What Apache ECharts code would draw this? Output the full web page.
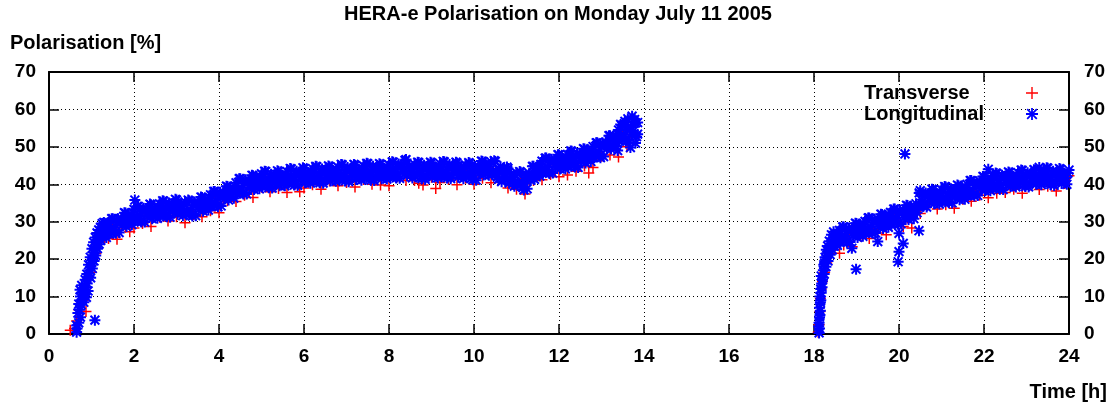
<!DOCTYPE html>
<html>
<head>
<meta charset="utf-8">
<script src="https://cdn.jsdelivr.net/npm/echarts@6/dist/echarts.min.js"></script>
<style>
html,body{margin:0;padding:0;background:#fff;}
#chart{width:1116px;height:406px;}
</style>
</head>
<body>
<div id="chart"></div>
<script>
// ---------------- DATA ----------------
const chartTitle = 'HERA-e Polarisation on Monday July 11 2005';
const yAxisTitle = 'Polarisation [%]';
const xAxisTitle = 'Time [h]';
const seriesNames = ['Transverse', 'Longitudinal'];

// Longitudinal polarimeter, first fill (time [h], polarisation [%])
const longTimeA = [
 0.65,0.65,0.66,0.68,0.70,0.72,0.74,0.76,0.78,0.80,
 0.82,0.84,0.86,0.88,0.90,0.92,0.94,0.96,0.98,1.00,
 1.02,1.04,1.06,1.08,1.08,1.10,1.12,1.14,1.16,1.18,
 1.20,1.22,1.24,1.26,1.28,1.30,1.32,
 1.35,1.40,1.45,1.50,1.55,1.60,1.65,1.70,1.75,1.80,
 1.85,1.90,1.95,2.00,2.05,2.10,2.15,2.20,2.25,2.30,
 2.35,2.40,2.45,2.50,2.55,2.60,2.65,2.70,2.75,2.80,
 2.85,2.90,2.95,3.00,3.05,3.10,3.15,3.20,3.25,3.30,
 3.35,3.40,3.45,3.50,3.55,3.60,3.65,3.70,3.75,3.80,
 3.85,3.90,3.95,4.00,4.05,4.10,4.15,4.20,4.25,4.30,
 4.35,4.40,4.45,4.50,4.55,4.60,4.65,4.70,4.75,4.80,
 4.85,4.90,4.95,5.00,5.05,5.10,5.15,5.20,5.25,5.30,
 5.35,5.40,5.45,5.50,5.55,5.60,5.65,5.70,5.75,5.80,
 5.85,5.90,5.95,6.00,6.05,6.10,6.15,6.20,6.25,6.30,
 6.35,6.40,6.45,6.50,6.55,6.60,6.65,6.70,6.75,6.80,
 6.85,6.90,6.95,7.00,7.05,7.10,7.15,7.20,7.25,7.30,
 7.35,7.40,7.45,7.50,7.55,7.60,7.65,7.70,7.75,7.80,
 7.85,7.90,7.95,8.00,8.05,8.10,8.15,8.20,8.25,8.30,
 8.35,8.40,8.45,8.50,8.55,8.60,8.65,8.70,8.75,8.80,
 8.85,8.90,8.95,9.00,9.05,9.10,9.15,9.20,9.25,9.30,
 9.35,9.40,9.45,9.50,9.55,9.60,9.65,9.70,9.75,9.80,
 9.85,9.90,9.95,10.00,10.05,10.10,10.15,10.20,10.25,10.30,
 10.35,10.40,10.45,10.50,10.55,10.60,10.65,10.70,10.75,10.80,
 10.85,10.90,10.95,11.00,11.05,11.10,11.15,11.20,11.25,11.30,
 11.35,11.40,11.45,11.50,11.55,11.60,11.65,11.70,11.75,11.80,
 11.85,11.90,11.95,12.00,12.05,12.10,12.15,12.20,12.25,12.30,
 12.35,12.40,12.45,12.50,12.55,12.60,12.65,12.70,12.75,12.80,
 12.85,12.90,12.95,13.00,13.05,13.10,13.15,13.20,13.25,13.30,
 13.35,13.40,13.45,13.50,13.55,13.60,13.65,13.70,13.75,13.80,
 13.85,
 2.02,13.62,13.72,13.80,13.55,13.68,13.78,13.45,13.38,13.85
];
const longPolA = [
 0.5,2.3,1.5,5.6,8.0,6.5,10.0,7.8,9.2,11.0,
 8.5,10.5,12.5,9.8,13.5,11.5,15.5,17.0,15.0,19.0,
 17.5,21.0,19.5,3.7,22.5,21.0,24.0,22.8,25.5,24.0,
 26.5,25.0,27.5,26.0,28.2,26.8,28.8,
 25.8,29.8,27.8,30.8,27.2,29.8,27.1,30.9,30.1,32.3,
 29.5,31.3,29.2,33.3,31.1,34.1,30.3,32.7,29.9,33.5,
 32.5,34.5,31.6,33.2,30.9,34.8,32.6,35.5,31.7,34.1,
 31.2,34.8,33.8,35.8,32.6,34.0,31.6,35.3,32.9,35.6,
 31.9,34.4,31.6,35.3,34.4,36.5,33.6,35.3,33.1,37.2,
 35.1,38.1,34.4,36.9,34.2,38.0,37.2,39.4,36.6,38.4,
 36.3,40.4,38.4,41.5,37.8,40.3,37.4,41.1,40.2,42.3,
 39.4,41.0,38.8,42.8,40.6,43.4,39.6,41.9,39.0,42.5,
 41.5,43.4,40.4,41.9,39.6,43.4,41.2,44.1,40.3,42.6,
 39.7,43.3,42.2,44.2,41.1,42.7,40.3,44.2,41.9,44.7,
 40.9,43.2,40.3,43.8,42.7,44.7,41.6,43.2,40.8,44.6,
 42.4,45.2,41.4,43.7,40.7,44.2,43.2,45.1,42.0,43.5,
 41.1,44.9,42.7,45.5,41.6,43.9,41.0,44.5,43.4,45.3,
 42.2,43.8,41.4,45.2,43.0,45.9,42.1,44.5,41.6,45.2,
 44.2,46.6,42.9,44.3,41.7,45.3,43.0,45.8,42.0,44.3,
 41.3,44.8,43.7,45.7,42.6,44.1,41.7,45.5,43.2,46.0,
 42.2,44.5,41.5,45.0,43.8,45.7,42.5,44.0,41.5,45.2,
 42.9,45.6,41.7,43.9,41.1,44.9,44.0,46.1,43.3,45.0,
 42.4,46.0,43.5,46.1,41.9,44.0,40.7,44.0,42.6,44.2,
 40.9,42.1,39.5,43.0,40.5,43.2,39.1,41.2,38.8,42.9,
 42.4,44.8,42.3,44.4,42.2,46.2,44.0,47.0,43.3,45.8,
 43.0,46.6,45.7,47.8,44.8,46.4,44.1,48.0,45.9,48.8,
 45.0,47.4,44.5,48.1,47.2,49.4,46.5,48.3,46.1,50.1,
 48.1,51.1,47.5,50.0,47.4,51.3,50.7,53.0,50.3,52.2,
 50.2,54.5,52.6,55.8,52.0,54.5,51.6,55.3,54.3,56.4,
 53.4,
 35.8,57.5,58.2,51.0,56.8,49.8,57.3,56.0,49.0,56.5
];
// Longitudinal polarimeter, first fill, interleaved readings
const longTimeA2 = [
 0.70,0.73,0.74,0.77,0.81,0.85,0.89,0.93,0.97,1.01,
 1.05,1.09,1.13,1.17,1.21,1.25,1.29,
 1.375,1.425,1.475,1.525,1.575,1.625,1.675,1.725,1.775,1.825,
 1.875,1.925,1.975,2.025,2.075,2.125,2.175,2.225,2.275,2.325,
 2.375,2.425,2.475,2.525,2.575,2.625,2.675,2.725,2.775,2.825,
 2.875,2.925,2.975,3.025,3.075,3.125,3.175,3.225,3.275,3.325,
 3.375,3.425,3.475,3.525,3.575,3.625,3.675,3.725,3.775,3.825,
 3.875,3.925,3.975,4.025,4.075,4.125,4.175,4.225,4.275,4.325,
 4.375,4.425,4.475,4.525,4.575,4.625,4.675,4.725,4.775,4.825,
 4.875,4.925,4.975,5.025,5.075,5.125,5.175,5.225,5.275,5.325,
 5.375,5.425,5.475,5.525,5.575,5.625,5.675,5.725,5.775,5.825,
 5.875,5.925,5.975,6.025,6.075,6.125,6.175,6.225,6.275,6.325,
 6.375,6.425,6.475,6.525,6.575,6.625,6.675,6.725,6.775,6.825,
 6.875,6.925,6.975,7.025,7.075,7.125,7.175,7.225,7.275,7.325,
 7.375,7.425,7.475,7.525,7.575,7.625,7.675,7.725,7.775,7.825,
 7.875,7.925,7.975,8.025,8.075,8.125,8.175,8.225,8.275,8.325,
 8.375,8.425,8.475,8.525,8.575,8.625,8.675,8.725,8.775,8.825,
 8.875,8.925,8.975,9.025,9.075,9.125,9.175,9.225,9.275,9.325,
 9.375,9.425,9.475,9.525,9.575,9.625,9.675,9.725,9.775,9.825,
 9.875,9.925,9.975,10.025,10.075,10.125,10.175,10.225,10.275,10.325,
 10.375,10.425,10.475,10.525,10.575,10.625,10.675,10.725,10.775,10.825,
 10.875,10.925,10.975,11.025,11.075,11.125,11.175,11.225,11.275,11.325,
 11.375,11.425,11.475,11.525,11.575,11.625,11.675,11.725,11.775,11.825,
 11.875,11.925,11.975,12.025,12.075,12.125,12.175,12.225,12.275,12.325,
 12.375,12.425,12.475,12.525,12.575,12.625,12.675,12.725,12.775,12.825,
 12.875,12.925,12.975,13.025,13.075,13.125,13.175,13.225,13.275,13.325,
 13.375,13.425,13.475,13.525,13.575,13.625,13.675,13.725,13.775,13.825
];
const longPolA2 = [
 3.0,11.8,4.5,13.0,12.0,14.5,16.0,18.5,20.5,22.8,
 24.5,25.8,27.0,27.8,28.5,29.5,29.8,
 28.9,26.7,30.8,28.5,26.9,30.8,30.1,29.0,32.4,28.7,
 31.6,30.8,32.4,30.2,34.1,31.7,29.9,33.6,32.8,31.5,
 34.7,30.8,33.6,32.6,34.0,31.7,35.6,33.1,31.3,35.0,
 34.1,32.8,36.0,32.0,34.5,33.3,34.6,32.1,35.8,33.2,
 31.5,35.3,34.5,33.3,36.6,32.8,35.6,34.7,36.3,34.1,
 38.1,35.7,34.0,37.9,37.2,36.1,39.5,35.8,38.7,37.9,
 39.5,37.4,41.5,39.1,37.4,41.2,40.3,39.1,42.4,38.6,
 41.4,40.4,41.9,39.6,43.5,40.9,39.1,42.7,41.8,40.4,
 43.6,39.6,42.3,41.3,42.6,40.3,44.2,41.7,39.8,43.5,
 42.6,41.2,44.4,40.4,43.1,42.0,43.4,41.0,44.8,42.3,
 40.4,44.1,43.1,41.7,44.9,40.9,43.6,42.5,43.8,41.5,
 45.3,42.8,40.9,44.5,43.5,42.2,45.3,41.3,43.9,42.8,
 44.1,41.8,45.6,43.0,41.1,44.8,43.8,42.4,45.5,41.5,
 44.2,43.1,44.4,42.1,46.0,43.5,41.7,45.4,44.5,43.2,
 46.4,42.3,44.8,43.5,44.6,42.1,45.9,43.4,41.5,45.1,
 44.1,42.7,45.9,41.9,44.5,43.4,44.7,42.3,46.1,43.6,
 41.7,45.3,44.3,42.9,45.9,41.9,44.4,43.3,44.5,42.0,
 45.8,43.1,41.2,44.8,44.1,42.9,46.2,42.5,45.3,44.2,
 45.3,42.7,46.3,43.5,41.3,44.7,43.4,41.8,44.6,40.3,
 42.7,41.3,42.4,39.7,43.4,40.6,38.5,42.3,41.9,41.1,
 44.8,41.3,44.5,43.8,45.3,43.1,47.0,44.6,42.9,46.7,
 45.9,44.6,47.9,44.1,46.8,45.8,47.2,44.9,48.9,46.4,
 44.6,48.3,47.4,46.1,49.5,45.7,48.6,47.7,49.2,47.1,
 51.1,48.8,47.1,51.0,50.4,49.5,53.0,49.4,52.4,51.7,
 53.5,51.5,55.7,53.4,51.6,55.4,54.5,53.3,56.5,52.7
];

// Longitudinal polarimeter, second fill
const longTimeB = [
 18.12,18.13,18.12,18.14,18.13,18.15,18.14,18.16,18.18,18.17,
 18.20,18.22,18.24,18.25,18.28,18.30,18.33,18.35,18.38,18.40,
 18.43,18.45,18.48,18.50,
 18.55,18.60,18.65,18.70,18.75,18.80,18.85,18.90,18.95,19.00,
 19.05,19.10,19.15,19.20,19.25,19.30,19.35,19.40,19.45,19.50,
 19.55,19.60,19.65,19.70,19.75,19.80,19.85,19.90,19.95,20.00,
 20.05,20.10,20.15,20.20,20.25,20.30,20.35,20.40,20.45,20.50,
 20.55,20.60,20.65,20.70,20.75,20.80,20.85,20.90,20.95,21.00,
 21.05,21.10,21.15,21.20,21.25,21.30,21.35,21.40,21.45,21.50,
 21.55,21.60,21.65,21.70,21.75,21.80,21.85,21.90,21.95,22.00,
 22.05,22.10,22.15,22.20,22.25,22.30,22.35,22.40,22.45,22.50,
 22.55,22.60,22.65,22.70,22.75,22.80,22.85,22.90,22.95,23.00,
 23.05,23.10,23.15,23.20,23.25,23.30,23.35,23.40,23.45,23.50,
 23.55,23.60,23.65,23.70,23.75,23.80,23.85,23.90,23.95,24.00,
 18.89,18.99,19.50,19.98,20.00,20.10,20.00,20.14,20.47,22.10,23.30
];
const longPolB = [
 0.3,1.5,3.0,5.0,7.0,8.5,10.0,12.0,13.5,15.5,
 14.5,17.0,16.0,19.0,18.0,21.0,19.5,22.5,21.2,24.0,
 22.5,25.3,23.5,26.0,
 23.7,27.7,25.6,28.6,24.9,27.4,24.6,28.3,27.4,29.5,
 26.6,28.3,26.1,30.1,28.0,31.0,27.3,29.8,27.0,30.7,
 29.8,31.9,29.0,30.7,28.5,32.5,30.4,33.4,29.7,32.2,
 29.4,33.1,32.2,34.3,31.3,33.0,30.8,34.8,34.0,38.3,
 34.5,36.9,33.9,37.5,36.5,38.5,35.5,37.0,34.7,38.6,
 36.4,39.3,35.5,37.9,35.0,38.6,37.6,39.6,36.6,38.2,
 36.0,40.0,38.0,41.0,37.3,39.8,37.0,40.8,39.9,42.0,
 39.0,40.6,38.3,42.2,40.0,42.9,39.1,41.5,38.6,42.2,
 41.2,43.1,40.1,41.6,39.3,43.1,40.9,43.7,39.9,42.2,
 39.3,42.8,41.8,43.7,40.7,42.2,39.9,43.7,41.5,44.3,
 40.4,42.7,39.7,43.2,42.1,44.0,40.9,42.4,40.0,43.8,
 22.9,17.3,24.7,19.3,22.0,24.2,26.9,48.1,27.6,44.0,44.5
];
// Longitudinal polarimeter, second fill, interleaved readings
const longTimeB2 = [
 18.11,18.13,18.15,18.16,18.17,18.19,18.21,18.23,18.26,18.29,
 18.32,18.36,18.41,18.46,18.52,
 18.575,18.625,18.675,18.725,18.775,18.825,18.875,18.925,18.975,19.025,
 19.075,19.125,19.175,19.225,19.275,19.325,19.375,19.425,19.475,19.525,
 19.575,19.625,19.675,19.725,19.775,19.825,19.875,19.925,19.975,20.025,
 20.075,20.125,20.175,20.225,20.275,20.325,20.375,20.425,20.475,20.525,
 20.575,20.625,20.675,20.725,20.775,20.825,20.875,20.925,20.975,21.025,
 21.075,21.125,21.175,21.225,21.275,21.325,21.375,21.425,21.475,21.525,
 21.575,21.625,21.675,21.725,21.775,21.825,21.875,21.925,21.975,22.025,
 22.075,22.125,22.175,22.225,22.275,22.325,22.375,22.425,22.475,22.525,
 22.575,22.625,22.675,22.725,22.775,22.825,22.875,22.925,22.975,23.025,
 23.075,23.125,23.175,23.225,23.275,23.325,23.375,23.425,23.475,23.525,
 23.575,23.625,23.675,23.725,23.775,23.825,23.875,23.925,23.975
];
const longPolB2 = [
 2.0,4.5,6.2,9.0,11.0,12.5,15.0,18.5,20.5,22.5,
 23.5,24.8,26.5,27.3,24.2,
 26.8,24.6,28.6,26.2,24.5,28.3,27.5,26.3,29.6,25.8,
 28.6,27.7,29.2,27.0,31.0,28.6,26.9,30.7,29.9,28.7,
 32.0,28.2,31.0,30.1,31.6,29.4,33.4,31.0,29.3,33.1,
 32.3,31.1,34.4,30.6,33.3,32.4,33.9,32.4,37.7,35.9,
 34.1,37.7,36.8,35.5,38.7,34.8,37.4,36.4,37.8,35.5,
 39.4,36.9,35.1,38.8,37.9,36.6,39.8,35.9,38.6,37.6,
 39.1,37.0,41.0,38.6,36.9,40.7,40.0,38.8,42.1,38.3,
 41.0,40.0,41.4,39.1,43.0,40.5,38.7,42.4,41.5,40.2,
 43.3,39.4,42.0,41.0,42.3,40.0,43.8,41.3,39.4,43.1,
 42.1,40.8,43.9,40.0,42.6,41.6,42.9,40.6,44.4,41.8,
 39.9,43.5,42.5,41.1,44.2,40.2,42.8,41.7,43.0
];

// Transverse polarimeter, first fill
const transTimeA = [
 0.50,0.60,0.65,0.70,0.75,0.80,0.87,0.90,1.00,1.10,1.20,1.30,
 1.4,1.5,1.6,1.7,1.8,1.9,2.0,2.1,2.2,2.3,
 2.4,2.5,2.6,2.7,2.8,2.9,3.0,3.1,3.2,3.3,
 3.4,3.5,3.6,3.7,3.8,3.9,4.0,4.1,4.2,4.3,
 4.4,4.5,4.6,4.7,4.8,4.9,5.0,5.1,5.2,5.3,
 5.4,5.5,5.6,5.7,5.8,5.9,6.0,6.1,6.2,6.3,
 6.4,6.5,6.6,6.7,6.8,6.9,7.0,7.1,7.2,7.3,
 7.4,7.5,7.6,7.7,7.8,7.9,8.0,8.1,8.2,8.3,
 8.4,8.5,8.6,8.7,8.8,8.9,9.0,9.1,9.2,9.3,
 9.4,9.5,9.6,9.7,9.8,9.9,10.0,10.1,10.2,10.3,
 10.4,10.5,10.6,10.7,10.8,10.9,11.0,11.1,11.2,11.3,
 11.4,11.5,11.6,11.7,11.8,11.9,12.0,12.1,12.2,12.3,
 12.4,12.5,12.6,12.7,12.8,12.9,13.0,13.1,13.2,13.3,
 13.4,13.5,13.6,13.7,13.8
];
const transPolA = [
 1.0,1.5,3.5,6.5,8.0,9.0,6.0,11.5,16.5,21.5,24.5,26.0,
 25.5,28.3,25.3,28.9,28.5,27.3,28.3,30.5,29.5,32.1,
 28.7,32.0,31.2,33.5,30.2,32.3,31.3,33.4,29.7,32.5,
 31.9,34.4,31.3,33.6,32.9,35.6,32.4,36.0,35.6,38.3,
 35.4,37.9,37.1,39.7,36.5,39.8,39.2,41.4,38.0,40.0,
 38.9,41.3,37.8,41.0,40.1,38.0,39.0,41.0,39.9,42.2,
 38.7,41.8,40.9,43.1,39.6,41.6,40.5,42.8,39.3,42.3,
 41.3,43.5,40.0,42.0,39.8,43.2,39.6,42.8,42.0,44.3,
 41.0,42.6,41.0,40.3,39.8,42.8,41.9,38.9,40.5,42.4,
 41.3,43.6,39.9,42.8,41.6,43.6,40.0,42.4,41.6,44.4,
 40.4,43.0,41.5,43.1,39.0,40.4,38.7,40.7,37.4,40.9,
 41.0,44.3,41.2,43.4,42.6,45.2,42.0,45.2,42.5,46.8,
 43.5,45.6,44.9,43.0,44.5,48.0,47.5,50.4,47.8,50.5,
 47.3,53.3,50.0,53.3,52.6
];

// Transverse polarimeter, second fill
const transTimeB = [
 18.10,18.12,18.14,18.15,18.17,18.20,18.25,18.30,18.40,18.50,18.60,
 18.7,18.8,18.9,19.0,19.1,19.2,19.3,19.4,19.5,19.6,
 19.7,19.8,19.9,20.0,20.1,20.2,20.3,20.4,20.5,20.6,
 20.7,20.8,20.9,21.0,21.1,21.2,21.3,21.4,21.5,21.6,
 21.7,21.8,21.9,22.0,22.1,22.2,22.3,22.4,22.5,22.6,
 22.7,22.8,22.9,23.0,23.1,23.2,23.3,23.4,23.5,23.6,
 23.7,23.8,23.9,24.0
];
const transPolB = [
 0.5,2.5,6.0,9.5,12.0,14.0,16.5,19.0,21.5,23.5,21.6,
 23.8,26.5,23.3,26.7,26.1,28.6,25.5,27.8,27.0,29.7,
 26.5,29.9,29.3,31.8,28.7,31.0,28.3,32.8,32.2,35.4,
 34.5,36.8,33.4,35.5,34.5,37.0,33.6,36.8,36.0,38.5,
 35.5,37.8,37.1,39.8,36.4,39.6,37.6,41.1,37.8,39.8,
 38.7,41.1,37.6,40.7,39.8,42.0,38.6,40.6,39.5,41.8,
 38.2,41.2,40.2,42.3
];

// ---------------- CHART ----------------
const pairs = (ts, vs) => ts.map((t, i) => [t, vs[i]]);
const transData = pairs(transTimeA, transPolA).concat(pairs(transTimeB, transPolB));
const longData = pairs(longTimeA, longPolA)
  .concat(pairs(longTimeA2, longPolA2))
  .concat(pairs(longTimeB, longPolB))
  .concat(pairs(longTimeB2, longPolB2));

const FONT = '"Liberation Sans", Arial, Helvetica, sans-serif';
const PLUS = 'path://M0,5L10,5M5,0L5,10';
const STAR = 'path://M0,5L10,5M5,0L5,10M1,1L9,9M1,9L9,1';
const RED = '#ff0000';
const BLUE = '#0000ff';

const txt = (size) => ({ fontFamily: FONT, fontWeight: 'bold', fontSize: size, color: '#000' });
const axisLine = { show: true, onZero: false, lineStyle: { color: '#000', width: 2 } };
const axisTick = { show: true, inside: true, length: 10, lineStyle: { color: '#000', width: 1.5 } };
const gridLine = { show: true, lineStyle: { color: '#000', width: 1, type: [1, 3] } };

const chart = echarts.init(document.getElementById('chart'), null, { renderer: 'canvas' });
chart.setOption({
  animation: false,
  backgroundColor: '#fff',
  title: [
    { text: chartTitle, left: 'center', top: 4, padding: 0, textStyle: txt(20) },
    { text: yAxisTitle, left: 10, top: 33, padding: 0, textStyle: txt(20) },
    { text: xAxisTitle, right: 9, top: 382, padding: 0, textStyle: txt(20) }
  ],
  grid: { left: 49, right: 47, top: 72, bottom: 72 },
  legend: {
    orient: 'vertical', left: 864, top: 83, padding: 0, align: 'right',
    itemWidth: 12, itemHeight: 12, itemGap: 1, selectedMode: false,
    formatter: '{n|{name}}',
    textStyle: Object.assign(txt(20), {
      rich: { n: { fontFamily: FONT, fontWeight: 'bold', fontSize: 20, color: '#000',
                   width: 157, align: 'left', lineHeight: 20 } }
    }),
    data: [
      { name: seriesNames[0], icon: PLUS, itemStyle: { color: 'rgba(0,0,0,0)', borderColor: RED, borderWidth: 1.4 } },
      { name: seriesNames[1], icon: STAR, itemStyle: { color: 'rgba(0,0,0,0)', borderColor: BLUE, borderWidth: 1.8 } }
    ]
  },
  xAxis: [
    { type: 'value', min: 0, max: 24, interval: 2, position: 'bottom',
      axisLine, axisTick, splitLine: gridLine,
      axisLabel: Object.assign(txt(19), { margin: 13 }) },
    { type: 'value', min: 0, max: 24, interval: 2, position: 'top',
      axisLine, axisTick, splitLine: { show: false }, axisLabel: { show: false } }
  ],
  yAxis: [
    { type: 'value', min: 0, max: 70, interval: 10, position: 'left',
      axisLine, axisTick, splitLine: gridLine,
      axisLabel: Object.assign(txt(19), { margin: 13 }) },
    { type: 'value', min: 0, max: 70, interval: 10, position: 'right',
      axisLine, axisTick, splitLine: { show: false },
      axisLabel: Object.assign(txt(19), { margin: 15 }) }
  ],
  series: [
    { name: seriesNames[0], type: 'scatter', xAxisIndex: 0, yAxisIndex: 0,
      symbol: PLUS, symbolSize: 11, silent: true, z: 2,
      itemStyle: { color: 'rgba(0,0,0,0)', borderColor: RED, borderWidth: 1.5, opacity: 1 },
      data: transData },
    { name: seriesNames[1], type: 'scatter', xAxisIndex: 0, yAxisIndex: 0,
      symbol: STAR, symbolSize: 11, silent: true, z: 3,
      itemStyle: { color: 'rgba(0,0,0,0)', borderColor: BLUE, borderWidth: 2, opacity: 1 },
      data: longData }
  ]
});
</script>
</body>
</html>
